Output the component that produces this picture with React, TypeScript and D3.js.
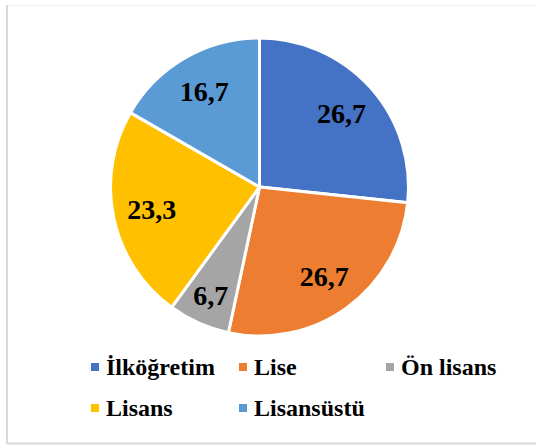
import React from "react";
import * as d3 from "d3";

const categories = ["İlköğretim", "Lise", "Ön lisans", "Lisans", "Lisansüstü"];
const values = [26.7, 26.7, 6.7, 23.3, 16.7];
const labels = ["26,7", "26,7", "6,7", "23,3", "16,7"];
const colors = ["#4472C4", "#ED7D31", "#A5A5A5", "#FFC000", "#5B9BD5"];

const W = 536;
const H = 446;
const cx = 259.5;
const cy = 187;
const R = 149;

const legendPos = [
  { x: 91, y: 363 },
  { x: 239, y: 363 },
  { x: 386, y: 363 },
  { x: 91, y: 404 },
  { x: 239, y: 404 },
];

export default function App() {
  const pie = d3.pie<number>().sort(null).value((d) => d);
  const arcs = pie(values);
  const arcGen = d3.arc<d3.PieArcDatum<number>>().innerRadius(0).outerRadius(R);
  const font = "'Liberation Serif', serif";
  return (
    <svg
      width={W}
      height={H}
      style={{ position: "absolute", left: 0, top: 0, background: "#fff" }}
    >
      <line x1={6} y1={5.5} x2={W} y2={5.5} stroke="#f0f0f0" strokeWidth={1} />
      <line x1={7} y1={5} x2={7} y2={444} stroke="#d9d9d9" strokeWidth={2} />
      <line x1={6} y1={443.5} x2={W} y2={443.5} stroke="#d9d9d9" strokeWidth={2} />
      <g transform={`translate(${cx},${cy})`}>
        {arcs.map((a, i) => (
          <path key={i} d={arcGen(a) || ""} fill={colors[i]} stroke="#fff" strokeWidth={3} />
        ))}
        {arcs.map((a, i) => {
          const mid = (a.startAngle + a.endAngle) / 2;
          const frac = (a.endAngle - a.startAngle) / (2 * Math.PI);
          const lr = frac < 0.1 ? R * 0.8 : R * 0.74;
          const x = Math.sin(mid) * lr;
          const y = -Math.cos(mid) * lr;
          return (
            <text
              key={i}
              x={x}
              y={y + 9.5}
              textAnchor="middle"
              style={{ fontFamily: font, fontWeight: 700, fontSize: 28 }}
              fill="#000"
            >
              {labels[i]}
            </text>
          );
        })}
      </g>
      {categories.map((c, i) => (
        <g key={c}>
          <rect x={legendPos[i].x} y={legendPos[i].y} width={8} height={8} fill={colors[i]} />
          <text
            x={legendPos[i].x + 15}
            y={legendPos[i].y + 12}
            style={{ fontFamily: font, fontWeight: 700, fontSize: 24 }}
            fill="#000"
          >
            {c}
          </text>
        </g>
      ))}
    </svg>
  );
}
